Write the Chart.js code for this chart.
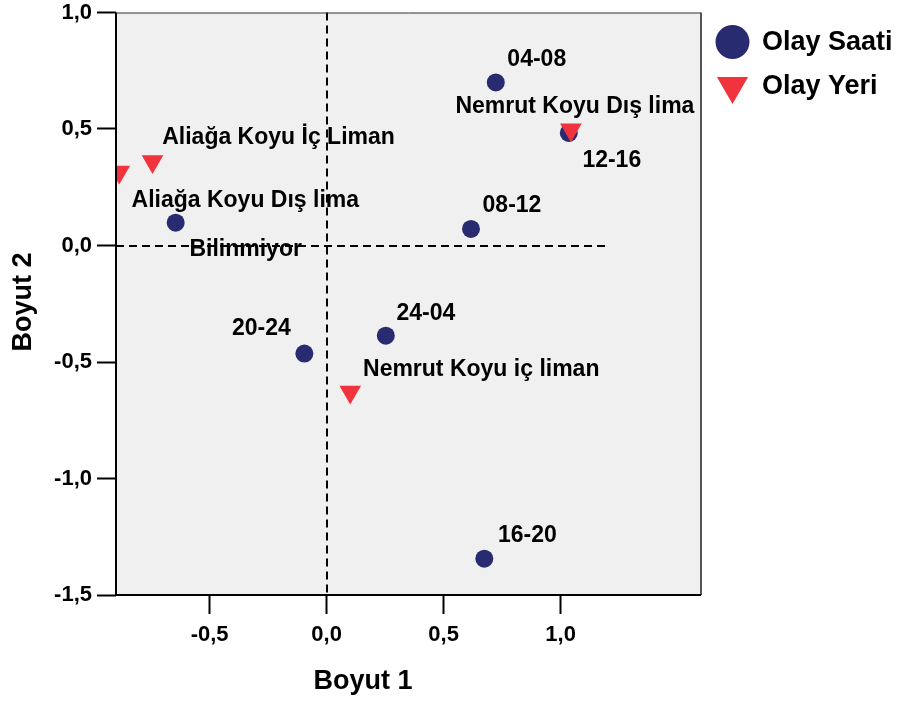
<!DOCTYPE html>
<html>
<head>
<meta charset="utf-8">
<script src="https://cdn.jsdelivr.net/npm/chart.js@4.4.1/dist/chart.umd.min.js"></script>
<style>
  html, body { margin: 0; padding: 0; background: #ffffff; }
  #wrap { width: 901px; height: 702px; }
</style>
</head>
<body>
<div id="wrap"><canvas id="chart" width="901" height="702"></canvas></div>
<script>
// Olay Saati (time of incident) coordinates on the two dimensions
const SAAT_LABELS = ['04-08', '08-12', '12-16', '16-20', '20-24', '24-04', 'Bilinmiyor'];
const SAAT_X = [0.723, 0.617, 1.035, 0.674, -0.095, 0.253, -0.645];
const SAAT_Y = [0.700, 0.071, 0.483, -1.344, -0.464, -0.387, 0.098];

// Olay Yeri (place of incident) coordinates
const YER_LABELS = ['Aliağa Koyu İç Liman', 'Aliağa Koyu Dış lima', 'Nemrut Koyu iç liman', 'Nemrut Koyu Dış lima'];
const YER_X = [-0.744, -0.886, 0.101, 1.044];
const YER_Y = [0.361, 0.315, -0.629, 0.497];

// Axis setup
const X_TICKS = [-0.5, 0.0, 0.5, 1.0];
const Y_TICKS = [-1.5, -1.0, -0.5, 0.0, 0.5, 1.0];
const X_RANGE = [-0.9, 1.6];
const Y_RANGE = [-1.5, 1.0];
const H_REF_END = 1.2;   // horizontal reference line stops here
const SERIES_NAMES = ['Olay Saati', 'Olay Yeri'];
const AXIS_TITLES = ['Boyut 1', 'Boyut 2'];

// Where each point's name sits relative to its marker (pixels)
const SAAT_LABEL_OFFSETS = [[41, -23], [41, -23], [43, 28], [43, -23], [-43, -25], [40, -22], [70, 27]];
const YER_LABEL_OFFSETS = [[126, -24], [126, 29], [131, -22], [4, -23]];

const FONT = '"Liberation Sans", Arial, Helvetica, sans-serif';
const NAVY = '#292b70';
const RED = '#f0333d';

const toPoints = (xs, ys) => xs.map((v, i) => ({ x: v, y: ys[i] }));
const fmt = v => v.toFixed(1).replace('.', ',');

function drawMarker(ctx, style, x, y, r, color) {
  ctx.save();
  ctx.fillStyle = color;
  if (Chart.helpers && Chart.helpers.drawPoint) {
    Chart.helpers.drawPoint(ctx, { pointStyle: style, radius: r, rotation: style === 'triangle' ? 180 : 0, borderWidth: 0 }, x, y);
  } else {
    ctx.beginPath();
    ctx.arc(x, y, r, 0, Math.PI * 2);
    ctx.fill();
  }
  ctx.restore();
}

const plotDecor = {
  id: 'plotDecor',
  beforeDraw(chart) {
    const { ctx, chartArea: a } = chart;
    ctx.save();
    ctx.fillStyle = '#f0f0f0';
    ctx.fillRect(a.left, a.top, a.right - a.left, a.bottom - a.top);
    ctx.restore();
  },
  afterDatasetsDraw(chart) {
    const { ctx, chartArea: a, scales: { x, y } } = chart;
    ctx.save();

    // point names
    ctx.font = 'bold 23px ' + FONT;
    ctx.fillStyle = '#000';
    ctx.textAlign = 'center';
    ctx.textBaseline = 'middle';
    chart.data.datasets.forEach((ds, di) => {
      const meta = chart.getDatasetMeta(di);
      meta.data.forEach((el, i) => {
        const off = ds.labelOffsets[i];
        ctx.fillText(ds.pointNames[i], el.x + off[0], el.y + off[1]);
      });
    });

    // dashed reference lines through the origin
    ctx.strokeStyle = '#000';
    ctx.lineWidth = 2;
    ctx.setLineDash([8, 5]);
    const x0 = Math.round(x.getPixelForValue(0));
    const y0 = Math.round(y.getPixelForValue(0));
    ctx.beginPath();
    ctx.moveTo(x0, a.top);
    ctx.lineTo(x0, a.bottom);
    ctx.stroke();
    ctx.beginPath();
    ctx.moveTo(a.left, y0);
    ctx.lineTo(x.getPixelForValue(H_REF_END), y0);
    ctx.stroke();
    ctx.setLineDash([]);

    // frame
    ctx.strokeStyle = '#333';
    ctx.lineWidth = 1;
    ctx.beginPath();
    ctx.moveTo(a.left, a.top + 0.5);
    ctx.lineTo(a.right, a.top + 0.5);
    ctx.stroke();
    ctx.strokeStyle = '#555';
    ctx.lineWidth = 2;
    ctx.beginPath();
    ctx.moveTo(a.right, a.top);
    ctx.lineTo(a.right, a.bottom);
    ctx.stroke();
    ctx.strokeStyle = '#000';
    ctx.lineWidth = 2;
    ctx.beginPath();
    ctx.moveTo(a.left, a.top);
    ctx.lineTo(a.left, a.bottom);
    ctx.lineTo(a.right, a.bottom);
    ctx.stroke();
    ctx.restore();
  },
  afterDraw(chart) {
    const { ctx } = chart;
    ctx.save();
    // axis titles
    ctx.font = 'bold 27px ' + FONT;
    ctx.fillStyle = '#000';
    ctx.textAlign = 'center';
    ctx.textBaseline = 'alphabetic';
    ctx.fillText(AXIS_TITLES[0], 363, 689);
    ctx.save();
    ctx.translate(31, 302);
    ctx.rotate(-Math.PI / 2);
    ctx.fillText(AXIS_TITLES[1], 0, 0);
    ctx.restore();

    // legend
    const ds = chart.data.datasets;
    drawMarker(ctx, ds[0].pointStyle, 732.5, 42, 17, ds[0].backgroundColor);
    drawMarker(ctx, ds[1].pointStyle, 732.5, 86, 18, ds[1].backgroundColor);
    ctx.fillStyle = '#000';
    ctx.textAlign = 'left';
    ctx.textBaseline = 'middle';
    ctx.fillText(ds[0].label, 762, 43);
    ctx.fillText(ds[1].label, 762, 87);
    ctx.restore();
  }
};

const tickScale = (values) => (scale) => { scale.ticks = values.map(v => ({ value: v })); };

new Chart(document.getElementById('chart'), {
  type: 'scatter',
  data: {
    datasets: [
      {
        label: SERIES_NAMES[0],
        data: toPoints(SAAT_X, SAAT_Y),
        pointNames: SAAT_LABELS,
        labelOffsets: SAAT_LABEL_OFFSETS,
        pointStyle: 'circle',
        backgroundColor: NAVY,
        borderColor: NAVY,
        pointRadius: 9,
        pointBorderWidth: 0,
        order: 1,
        clip: 0
      },
      {
        label: SERIES_NAMES[1],
        data: toPoints(YER_X, YER_Y),
        pointNames: YER_LABELS,
        labelOffsets: YER_LABEL_OFFSETS,
        pointStyle: 'triangle',
        rotation: 180,
        backgroundColor: RED,
        borderColor: RED,
        pointRadius: 12.5,
        pointRotation: 180,
        pointBorderWidth: 0,
        order: 0,
        clip: 0
      }
    ]
  },
  options: {
    responsive: false,
    animation: false,
    devicePixelRatio: 1,
    layout: { padding: { top: 11, right: 200, left: 0, bottom: 0 } },
    plugins: { legend: { display: false }, tooltip: { enabled: false } },
    events: [],
    scales: {
      x: {
        type: 'linear',
        min: X_RANGE[0],
        max: X_RANGE[1],
        afterBuildTicks: tickScale(X_TICKS),
        afterFit: (s) => { s.height = 107; s.paddingLeft = 0; s.paddingRight = 0; },
        border: { display: false },
        grid: { drawOnChartArea: false, drawTicks: true, tickLength: 19, tickWidth: 2, tickColor: '#000' },
        ticks: {
          padding: 8,
          color: '#000',
          font: { family: FONT, size: 22, weight: 'bold' },
          callback: (v) => fmt(v)
        }
      },
      y: {
        type: 'linear',
        min: Y_RANGE[0],
        max: Y_RANGE[1],
        afterBuildTicks: tickScale(Y_TICKS),
        afterFit: (s) => { s.width = 116; s.paddingTop = 0; s.paddingBottom = 0; },
        border: { display: false },
        grid: { drawOnChartArea: false, drawTicks: true, tickLength: 19, tickWidth: 2, tickColor: '#000' },
        ticks: {
          padding: 5,
          color: '#000',
          font: { family: FONT, size: 22, weight: 'bold' },
          callback: (v) => fmt(v)
        }
      }
    }
  },
  plugins: [plotDecor]
});
</script>
</body>
</html>
